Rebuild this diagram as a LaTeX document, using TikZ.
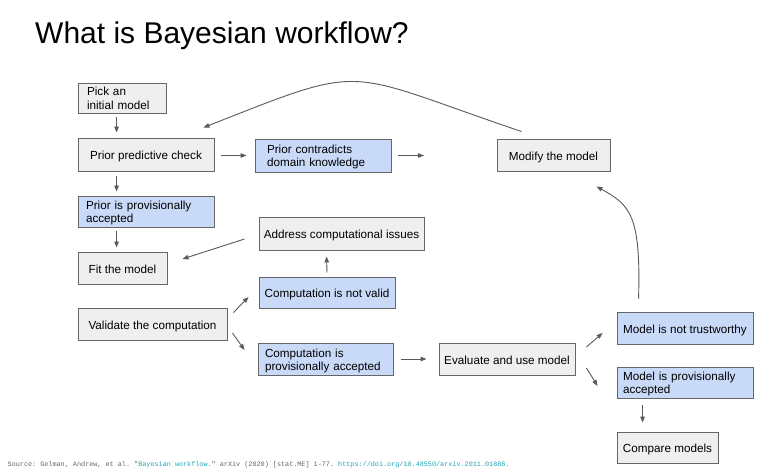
\documentclass[tikz,border=0pt]{standalone}
\usepackage{fontspec}
\setmainfont{Liberation Sans}
\setmonofont{Liberation Mono}
\usepackage{tikz}
\usetikzlibrary{arrows.meta}
\usetikzlibrary{calc}
\definecolor{boxgray}{HTML}{EFEFEF}
\definecolor{boxblue}{HTML}{C9DAF8}
\definecolor{edge}{HTML}{666666}
\definecolor{arr}{HTML}{595959}
\definecolor{srcgray}{HTML}{666666}
\definecolor{srclink}{HTML}{1EA6B6}
\tikzstyle{gbox} = [draw=edge,line width=0.9pt,fill=boxgray,inner ysep=1pt,inner xsep=0pt,minimum height=32pt,text height=10.5pt,text depth=0pt,font=\fontsize{11.7}{13.3}\selectfont]
\tikzstyle{bbox} = [gbox,fill=boxblue]
\tikzstyle{two} = [align=left,inner xsep=8pt,text width=120pt,text height=9pt,text depth=13pt]
\tikzstyle{flow} = [draw=arr,line width=0.9pt,-{Triangle[length=6pt,width=4.5pt]}]

\begin{document}
\begin{tikzpicture}[x=1pt,y=-1pt]
\useasboundingbox (0,0) rectangle (760,476);
\draw(35,43.5) node[anchor=base west,inner sep=0pt,font=\fontsize{30}{36}\selectfont] (title) {What is Bayesian workflow?};

\draw(122,98) node[gbox,two,inner xsep=9pt,text width=70pt,minimum height=30pt] (pick) {Pick an\\initial model};
\draw(146,154.5) node[gbox,minimum width=136pt,minimum height=33pt] (check) {Prior predictive check};
\draw(323,155.5) node[bbox,two,inner xsep=12pt,text width=112pt,minimum height=33pt] (contra) {Prior contradicts\\domain knowledge};
\draw(553.5,155) node[gbox,minimum width=113pt] (modify) {Modify the model};
\draw(146,211.5) node[bbox,two,minimum height=31pt] (priorok) {Prior is provisionally\\accepted};
\draw(341.5,233.5) node[gbox,minimum width=165pt,minimum height=33pt] (address) {Address computational issues};
\draw(122.5,268) node[gbox,minimum width=89pt] (fit) {Fit the model};
\draw(327,292.5) node[bbox,minimum width=136pt,minimum height=31pt] (notvalid) {Computation is not valid};
\draw(152.5,324) node[gbox,minimum width=149pt] (validate) {Validate the computation};
\draw(325.5,359) node[bbox,two,inner xsep=7pt,text width=121pt] (compok) {Computation is\\provisionally accepted};
\draw(507,359) node[gbox,minimum width=136pt] (evaluate) {Evaluate and use model};
\draw(685,328) node[bbox,minimum width=136pt] (untrust) {Model is not trustworthy};
\draw(685,382.5) node[bbox,two,inner xsep=6pt,text width=124pt,minimum height=31pt] (modelok) {Model is provisionally\\accepted};
\draw(667.5,447.5) node[gbox,minimum width=101pt,minimum height=31pt] (compare) {Compare models};

\coordinate (loose) at (424,155.5);

\draw[flow] ($(pick.south west)+(39,4)$) -- ($(check.north west)+(39,-5)$);
\draw[flow] ($(check.east)+(7,1)$) -- ($(contra.west)+(-8,0)$);
\draw[flow] ($(contra.east)+(7,0)$) -- (loose);
\draw[flow] ($(modify.north west)+(25,-7)$) .. controls (340,70) and (370,62) .. ($(check.north east)+(-11,-10)$);
\draw[flow] ($(check.south west)+(39,4.5)$) -- ($(priorok.north west)+(39,-4)$);
\draw[flow] ($(priorok.south west)+(39,4)$) -- ($(fit.north west)+(39,-4)$);
\draw[flow] ($(address.west)+(-14,5.5)$) -- ($(fit.east)+(15,-9)$);
\draw[flow] ($(notvalid.north)+(0,-4)$) -- ($(address.south west)+(68,6)$);
\draw[flow] ($(validate.north east)+(6,5)$) -- ($(notvalid.west)+(-10,4.5)$);
\draw[flow] ($(validate.east)+(5,9)$) -- ($(compok.west)+(-13,-9)$);
\draw[flow] ($(compok.east)+(8,0)$) -- ($(evaluate.west)+(-12,0)$);
\draw[flow] ($(evaluate.east)+(11,-12)$) -- ($(untrust.west)+(-14,5)$);
\draw[flow] ($(evaluate.east)+(11,9)$) -- ($(modelok.west)+(-19,3.5)$);
\draw[flow] ($(untrust.north west)+(22,-13)$) .. controls (641,215) and (630,205) .. ($(modify.south east)+(-14,15)$);
\draw[flow] ($(modelok.south west)+(26,7)$) -- ($(compare.north west)+(26,-9)$);

%source line
\draw(7.5,466) node[anchor=base west,inner sep=0pt,text=srcgray,font=\ttfamily\fontsize{6.8}{8}\selectfont] (source) {Source: Gelman, Andrew, et al. "\textcolor{srclink}{Bayesian workflow.}" arXiv (2020) [stat.ME] 1-77. \textcolor{srclink}{https://doi.org/10.48550/arxiv.2011.01888.}};
\end{tikzpicture}
\end{document}
